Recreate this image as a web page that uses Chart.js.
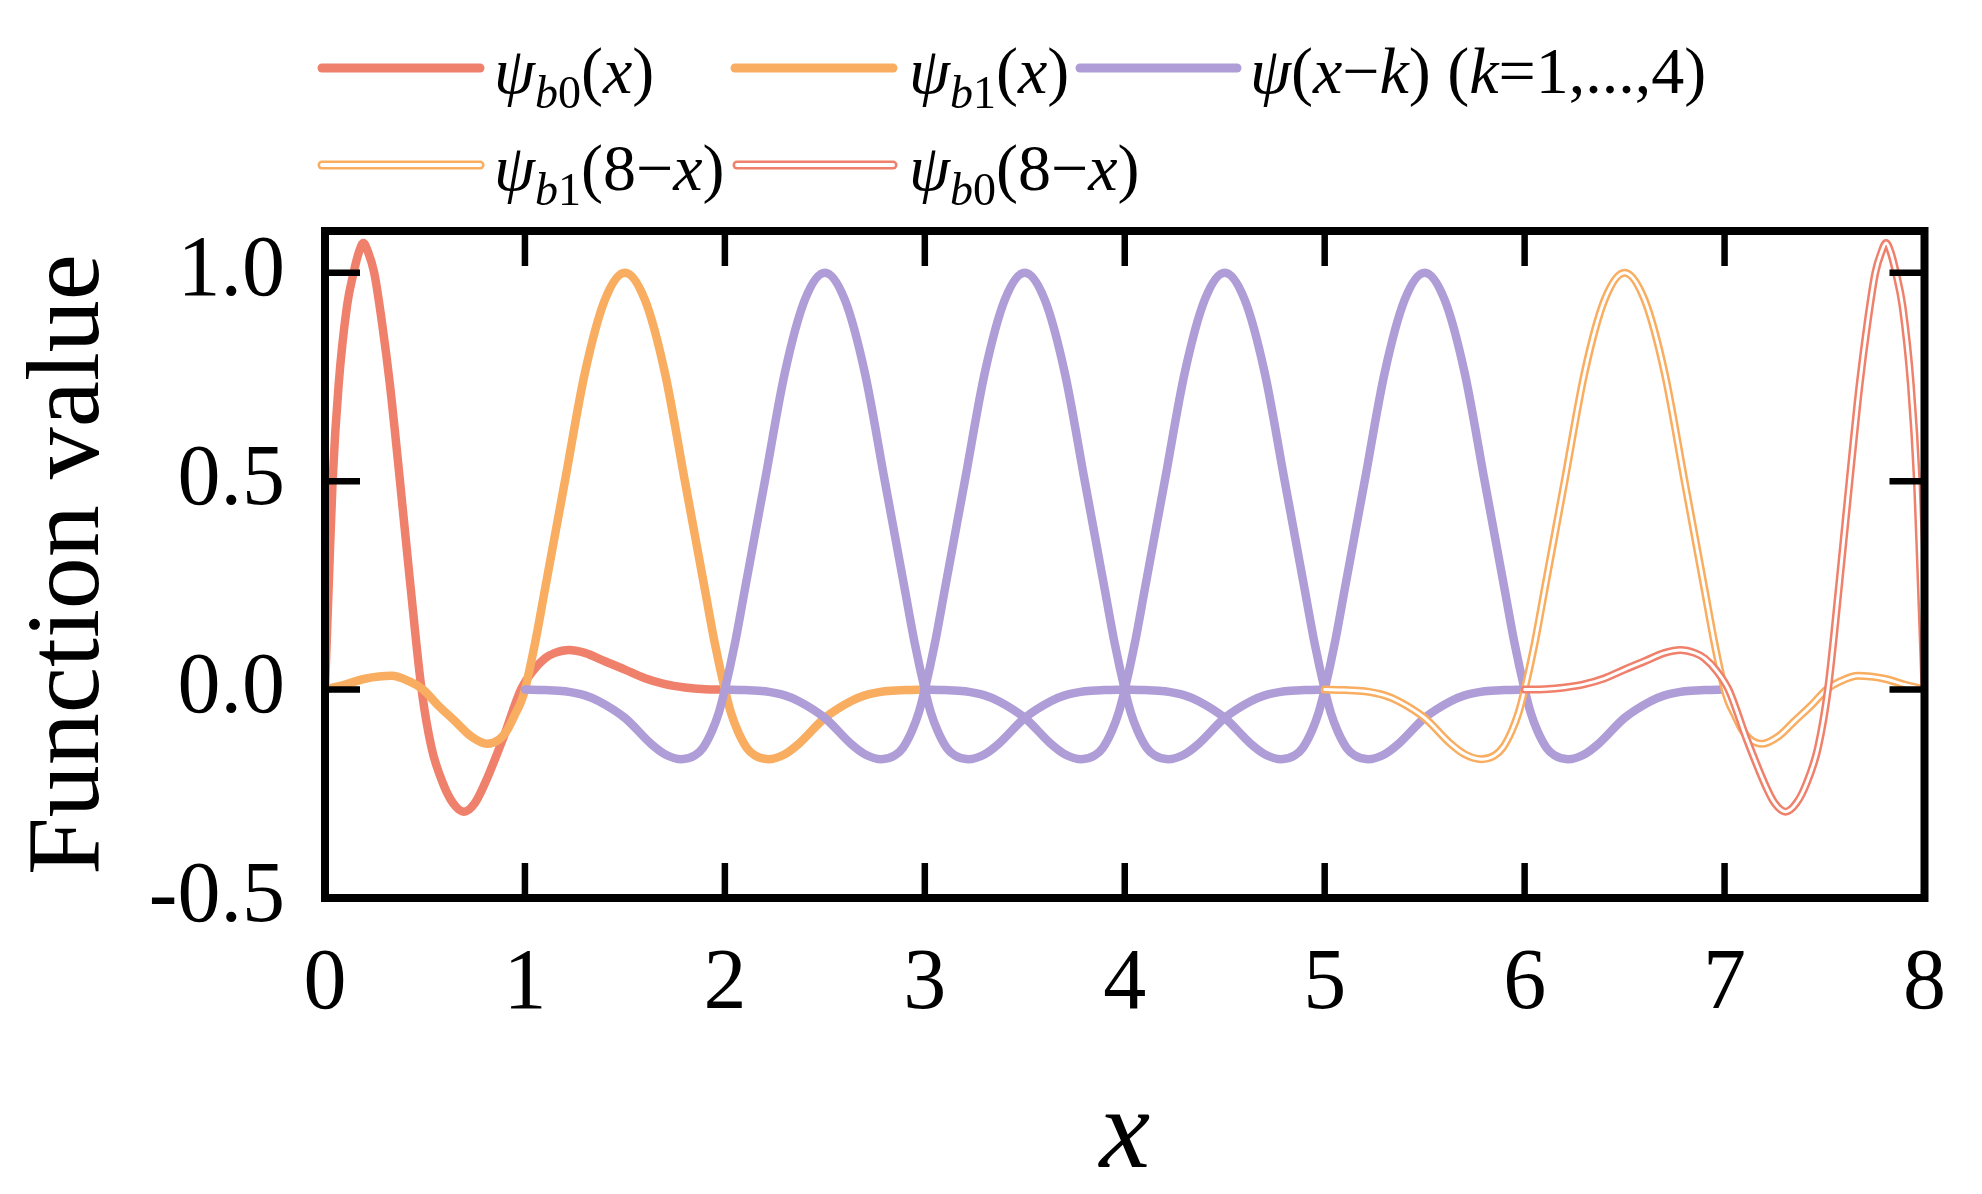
<!DOCTYPE html>
<html>
<head>
<meta charset="utf-8">
<script src="https://cdn.jsdelivr.net/npm/chart.js@4.4.0/dist/chart.umd.min.js"></script>
<style>
  html, body { margin: 0; padding: 0; background: #fff; }
  #wrap { width: 1982px; height: 1194px; }
</style>
</head>
<body>
<div id="wrap"><canvas id="waveChart"></canvas></div>
<script>
// values
const b0X = [0, 0.02, 0.038, 0.068, 0.11, 0.143, 0.17, 0.192, 0.215, 0.246, 0.285, 0.325, 0.375, 0.425, 0.483, 0.533, 0.59, 0.64, 0.695, 0.75, 0.8, 0.89, 0.98, 1.04, 1.1, 1.15, 1.22, 1.3, 1.4, 1.5, 1.6, 1.7, 1.8, 1.9, 2.0];
const b0Y = [0, 0.27, 0.5, 0.73, 0.92, 1.0, 1.05, 1.071, 1.05, 1.0, 0.88, 0.73, 0.5, 0.26, 0, -0.14, -0.225, -0.272, -0.293, -0.272, -0.225, -0.118, 0, 0.045, 0.075, 0.088, 0.095, 0.088, 0.068, 0.048, 0.027, 0.013, 0.005, 0.001, 0];

const b1X = [0, 0.1, 0.2, 0.333, 0.42, 0.49, 0.566, 0.649, 0.73, 0.81, 0.87, 0.914, 0.95, 0.98, 1.0, 1.05, 1.1, 1.2, 1.3, 1.4, 1.5, 1.6, 1.7, 1.8, 1.9, 1.95, 2.0, 2.03, 2.065, 2.11, 2.15, 2.217, 2.3, 2.37, 2.5, 2.63, 2.7, 2.8, 2.9, 3.0];
const b1Y = [0, 0.012, 0.026, 0.033, 0.02, 0, -0.038, -0.075, -0.112, -0.13, -0.12, -0.095, -0.06, -0.03, 0, 0.11, 0.24, 0.5, 0.76, 0.935, 1.0, 0.935, 0.76, 0.5, 0.24, 0.11, 0, -0.055, -0.1, -0.14, -0.158, -0.167, -0.155, -0.13, -0.068, -0.028, -0.014, -0.004, -0.001, 0];

// interior function psi(t), t in [0, 3]
const psiT = [0, 0.1, 0.2, 0.3, 0.37, 0.5, 0.63, 0.7, 0.783, 0.85, 0.89, 0.935, 0.97, 1.0, 1.05, 1.1, 1.2, 1.3, 1.4, 1.5, 1.6, 1.7, 1.8, 1.9, 1.95, 2.0, 2.03, 2.065, 2.11, 2.15, 2.217, 2.3, 2.37, 2.5, 2.63, 2.7, 2.8, 2.9, 3.0];
const psiV = [0, -0.001, -0.004, -0.014, -0.028, -0.068, -0.13, -0.155, -0.167, -0.158, -0.14, -0.1, -0.055, 0, 0.11, 0.24, 0.5, 0.76, 0.935, 1.0, 0.935, 0.76, 0.5, 0.24, 0.11, 0, -0.055, -0.1, -0.14, -0.158, -0.167, -0.155, -0.13, -0.068, -0.028, -0.014, -0.004, -0.001, 0];
const shiftsK = [1, 2, 3, 4];
const mirrorAt = 8;

const xTicks = [0, 1, 2, 3, 4, 5, 6, 7, 8];
const yTicks = [-0.5, 0, 0.5, 1.0];

const RED = '#EF806B';
const ORANGE = '#F8AD60';
const PURPLE = '#AF9DD7';
const SERIF = '"Liberation Serif", "Times New Roman", serif';

// legend texts as runs: r = upright, i = italic, sr/si = subscript
const legendEntries = [
    { color: RED, double: false, runs: [['ψ', 'i'], ['b', 'si'], ['0', 'sr'], ['(', 'r'], ['x', 'i'], [')', 'r']] },
    { color: ORANGE, double: false, runs: [['ψ', 'i'], ['b', 'si'], ['1', 'sr'], ['(', 'r'], ['x', 'i'], [')', 'r']] },
    { color: PURPLE, double: false, runs: [['ψ', 'i'], ['(', 'r'], ['x', 'i'], ['−', 'r'], ['k', 'i'], [') (', 'r'], ['k', 'i'], ['=1,...,4)', 'r']] },
    { color: ORANGE, double: true, runs: [['ψ', 'i'], ['b', 'si'], ['1', 'sr'], ['(8−', 'r'], ['x', 'i'], [')', 'r']] },
    { color: RED, double: true, runs: [['ψ', 'i'], ['b', 'si'], ['0', 'sr'], ['(8−', 'r'], ['x', 'i'], [')', 'r']] }
];

function pts(xs, ys) {
    return xs.map((x, i) => ({ x: x, y: ys[i] }));
}
function mirrored(xs, ys) {
    return xs.map((x, i) => ({ x: mirrorAt - x, y: ys[i] })).reverse();
}

const base = {
    pointRadius: 0,
    fill: false,
    cubicInterpolationMode: 'monotone',
    borderCapStyle: 'round',
    borderJoinStyle: 'round'
};

const datasets = [
    Object.assign({}, base, { data: pts(b0X, b0Y), borderColor: RED, borderWidth: 8.5, order: 9 }),
    Object.assign({}, base, { data: pts(b1X, b1Y), borderColor: ORANGE, borderWidth: 8.5, order: 8 })
];
shiftsK.forEach(k => {
    datasets.push(Object.assign({}, base, { data: pts(psiT.map(t => t + k), psiV), borderColor: PURPLE, borderWidth: 8.5, order: 7 }));
});
// double lines: coloured outline with a white core
datasets.push(Object.assign({}, base, { data: mirrored(b1X, b1Y), borderColor: ORANGE, borderWidth: 8, order: 4 }));
datasets.push(Object.assign({}, base, { data: mirrored(b1X, b1Y), borderColor: '#fff', borderWidth: 3, order: 3 }));
datasets.push(Object.assign({}, base, { data: mirrored(b0X, b0Y), borderColor: RED, borderWidth: 8, order: 2 }));
datasets.push(Object.assign({}, base, { data: mirrored(b0X, b0Y), borderColor: '#fff', borderWidth: 3, order: 1 }));

// frame with inward ticks on all four sides
const framePlugin = {
    id: 'frame',
    afterDatasetsDraw(chart) {
        const { ctx, chartArea: a, scales } = chart;
        const len = 35;
        ctx.save();
        ctx.strokeStyle = '#000';
        ctx.lineCap = 'butt';
        ctx.lineWidth = 6.5;
        ctx.beginPath();
        scales.x.ticks.forEach(t => {
            if (t.value <= scales.x.min || t.value >= scales.x.max) return;
            const px = scales.x.getPixelForValue(t.value);
            ctx.moveTo(px, a.bottom); ctx.lineTo(px, a.bottom - len);
            ctx.moveTo(px, a.top); ctx.lineTo(px, a.top + len);
        });
        scales.y.ticks.forEach(t => {
            if (t.value <= scales.y.min || t.value >= scales.y.max) return;
            const py = scales.y.getPixelForValue(t.value);
            ctx.moveTo(a.left, py); ctx.lineTo(a.left + len, py);
            ctx.moveTo(a.right, py); ctx.lineTo(a.right - len, py);
        });
        ctx.stroke();
        ctx.lineWidth = 8;
        ctx.strokeRect(a.left, a.top, a.right - a.left, a.bottom - a.top);
        ctx.restore();
    }
};

function drawRuns(ctx, runs, x, baseline) {
    runs.forEach(([txt, st]) => {
        const sub = st[0] === 's';
        const ital = st[st.length - 1] === 'i';
        const size = sub ? 46 : 66;
        ctx.font = (ital ? 'italic ' : '') + size + 'px ' + SERIF;
        ctx.fillText(txt, x, baseline + (sub ? 15 : 0));
        x += ctx.measureText(txt).width;
    });
}

const legendPlugin = {
    id: 'richLegend',
    afterDraw(chart) {
        const ctx = chart.ctx;
        // [lineStart, lineEnd, textX, lineY, baseline]
        const slots = [
            [322, 480, 494, 68, 93],
            [735, 893, 909, 68, 93],
            [1080, 1237, 1250, 68, 93],
            [322, 480, 494, 165, 190],
            [737, 893, 909, 165, 190]
        ];
        ctx.save();
        ctx.fillStyle = '#000';
        ctx.textBaseline = 'alphabetic';
        ctx.textAlign = 'left';
        legendEntries.forEach((e, i) => {
            const [x0, x1, tx, ly, bl] = slots[i];
            ctx.lineCap = 'round';
            ctx.strokeStyle = e.color;
            ctx.lineWidth = 9;
            ctx.beginPath(); ctx.moveTo(x0, ly); ctx.lineTo(x1, ly); ctx.stroke();
            if (e.double) {
                ctx.strokeStyle = '#fff';
                ctx.lineWidth = 4;
                ctx.beginPath(); ctx.moveTo(x0, ly); ctx.lineTo(x1, ly); ctx.stroke();
            }
            drawRuns(ctx, e.runs, tx, bl);
        });
        ctx.restore();
    }
};

new Chart(document.getElementById('waveChart'), {
    type: 'line',
    data: { datasets: datasets },
    options: {
        responsive: true,
        maintainAspectRatio: false,
        devicePixelRatio: 1,
        animation: false,
        layout: { padding: { top: 231, right: 50, left: 0, bottom: 0 } },
        plugins: { legend: { display: false }, tooltip: { enabled: false } },
        scales: {
            x: {
                type: 'linear',
                position: 'bottom',
                min: 0,
                max: 8,
                afterBuildTicks: s => { s.ticks = xTicks.map(v => ({ value: v })); },
                afterFit: s => { s.height = 296; },
                grid: { display: false, drawTicks: false },
                border: { display: false },
                ticks: {
                    color: '#000',
                    padding: 36,
                    font: { family: SERIF, size: 86 },
                    callback: v => String(v)
                },
                title: {
                    display: true,
                    text: 'x',
                    color: '#000',
                    font: { family: SERIF, size: 114, style: 'italic', lineHeight: 1 },
                    padding: { top: 0, bottom: 0 }
                }
            },
            y: {
                type: 'linear',
                min: -0.5,
                max: 1.1,
                afterBuildTicks: s => { s.ticks = yTicks.map(v => ({ value: v })); },
                afterFit: s => { s.width = 325; },
                grid: { display: false, drawTicks: false },
                border: { display: false },
                ticks: {
                    color: '#000',
                    padding: 40,
                    font: { family: SERIF, size: 86 },
                    callback: v => v.toFixed(1)
                },
                title: {
                    display: true,
                    text: 'Function value',
                    color: '#000',
                    font: { family: SERIF, size: 104, lineHeight: 1.2 },
                    padding: { top: 8, bottom: 0 }
                }
            }
        }
    },
    plugins: [framePlugin, legendPlugin]
});
</script>
</body>
</html>
